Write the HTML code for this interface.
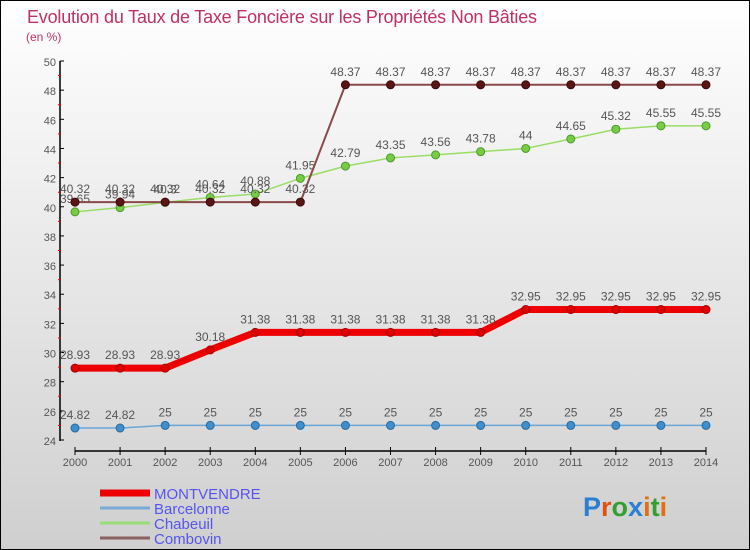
<!DOCTYPE html>
<html><head><meta charset="utf-8"><style>
body{margin:0;width:750px;height:550px;overflow:hidden;font-family:"Liberation Sans",sans-serif}
svg{display:block}
</style></head><body>
<svg width="750" height="550">
<defs><linearGradient id="bg" x1="0" y1="0" x2="0" y2="1"><stop offset="0" stop-color="#ffffff"/><stop offset="1" stop-color="#cfcfcf"/></linearGradient></defs>
<rect x="0.5" y="0.5" width="749" height="549" fill="url(#bg)" stroke="#000"/>
<text x="27" y="23" font-size="18" letter-spacing="-0.2" fill="#c03060">Evolution du Taux de Taxe Foncière sur les Propriétés Non Bâties</text>
<text x="26" y="41" font-size="12" fill="#c03060">(en %)</text>
<g id="axes"></g>
<g id="series"></g>
<g id="legend"></g>
<g font-size="27" font-weight="bold">
<text x="583" y="516"><tspan fill="#2a7fd4">P</tspan><tspan fill="#e05010">r</tspan><tspan fill="#30a030">o</tspan><tspan fill="#2a7fd4">x</tspan><tspan fill="#e07010">i</tspan><tspan fill="#30a030">t</tspan><tspan fill="#e07010">i</tspan></text>
</g>
</svg>
<script>
const years=[2000,2001,2002,2003,2004,2005,2006,2007,2008,2009,2010,2011,2012,2013,2014];
const montvendre=[28.93,28.93,28.93,30.18,31.38,31.38,31.38,31.38,31.38,31.38,32.95,32.95,32.95,32.95,32.95];
const barcelonne=[24.82,24.82,25,25,25,25,25,25,25,25,25,25,25,25,25];
const chabeuil=[39.65,39.94,40.3,40.64,40.88,41.95,42.79,43.35,43.56,43.78,44,44.65,45.32,45.55,45.55];
const combovin=[40.32,40.32,40.32,40.32,40.32,40.32,48.37,48.37,48.37,48.37,48.37,48.37,48.37,48.37,48.37];
const yTicks=[24,26,28,30,32,34,36,38,40,42,44,46,48,50];
const NS="http://www.w3.org/2000/svg";
const X=i=>75+i*(706-75)/14;
const Y=v=>440-(v-24)*(440-61)/26;
function mk(tag,attrs,parent){const e=document.createElementNS(NS,tag);for(const k in attrs)e.setAttribute(k,attrs[k]);parent.appendChild(e);return e;}
const ax=document.getElementById('axes');
let e=mk('line',{x1:60,y1:61,x2:60,y2:441,stroke:'#000','stroke-width':1.5},ax);


yTicks.forEach(t=>{
  mk('line',{x1:60,y1:Y(t),x2:64,y2:Y(t),stroke:'#000'},ax);
  if(t<50) mk('line',{x1:58,y1:Y(t+1),x2:61,y2:Y(t+1),stroke:'#e00'},ax);
  const l=mk('text',{x:56,y:Y(t)+5,'font-size':11,fill:'#555','text-anchor':'end'},ax);l.textContent=t;
  
  
});
e=mk('line',{x1:75,y1:451,x2:706,y2:451,stroke:'#000','stroke-width':1.5},ax);


years.forEach((y,i)=>{
  mk('line',{x1:X(i),y1:447,x2:X(i),y2:455,stroke:'#000'},ax);
  const l=mk('text',{x:X(i),y:466,'font-size':11,fill:'#555','text-anchor':'middle'},ax);l.textContent=y;
  
  
});
const sg=document.getElementById('series');
function draw(name,data,color,width,dot,dotStroke){
  const g=mk('g',{},sg);
  
  
  mk('polyline',{points:data.map((v,i)=>X(i)+','+Y(v)).join(' '),fill:'none',stroke:color,'stroke-width':width},g);
  data.forEach((v,i)=>{
    const c=mk('circle',{cx:X(i),cy:Y(v),r:4,fill:dot,stroke:dotStroke,'stroke-width':1},g);
    
    
    const t=mk('text',{x:X(i),y:Y(v)-9,'font-size':12,fill:'#555','text-anchor':'middle'},g);t.textContent=v;
    
    
  });
}
draw('barcelonne',barcelonne,'#6aa6d6',1.5,'#3f8fcf','#2a6a9a');
draw('chabeuil',chabeuil,'#99dd66',1.5,'#77cc44','#4a9a2a');
draw('combovin',combovin,'#8a4a4a',2,'#5a1515','#3a0a0a');
draw('montvendre',montvendre,'#ee0000',7,'#dd0000','#aa0000');
const lg=document.getElementById('legend');
[['MONTVENDRE','#ee0000',7],['Barcelonne','#7aaad6',3],['Chabeuil','#99dd77',3],['Combovin','#8a6060',3]].forEach((d,i)=>{
  const y=493+i*15;
  const g=mk('g',{},lg);
  
  
  mk('line',{x1:100,y1:y,x2:150,y2:y,stroke:d[1],'stroke-width':d[2]},g);
  const t=mk('text',{x:154,y:y+6,'font-size':15,fill:'#5555ee'},g);t.textContent=d[0];
});
</script>
</body></html>
